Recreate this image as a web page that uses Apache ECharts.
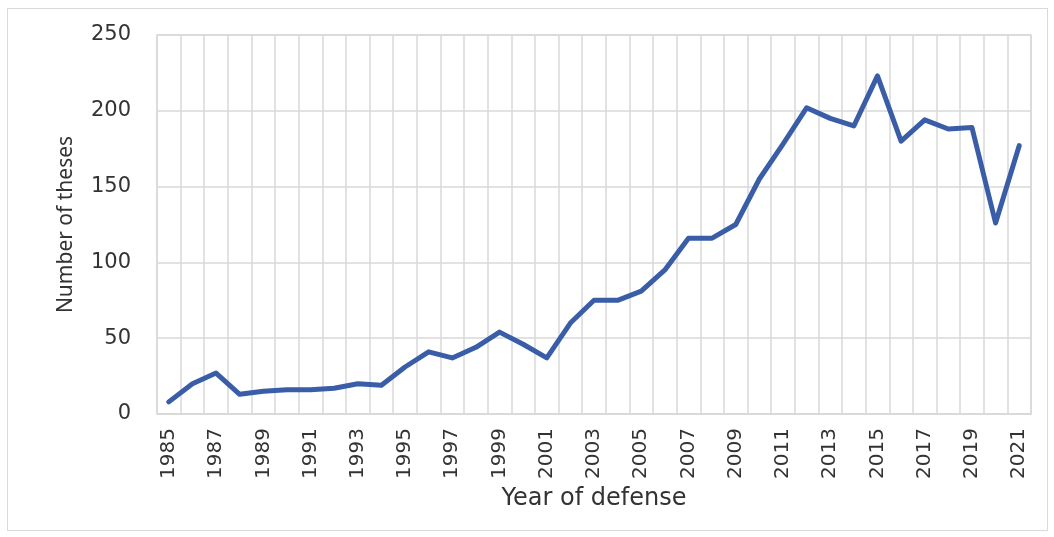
<!DOCTYPE html>
<html>
<head>
<meta charset="utf-8">
<script src="https://cdn.jsdelivr.net/npm/echarts@6/dist/echarts.min.js"></script>
<style>
  html, body { margin: 0; padding: 0; background: #fff; }
  #frame { position: absolute; left: 7px; top: 8px; width: 1039px; height: 521px; border: 1px solid #d9d9d9; }
  #chart { position: absolute; left: 0; top: 0; width: 1054px; height: 537px; }
</style>
</head>
<body>
<div id="frame"></div>
<div id="chart"></div>
<script>
const years = [];
for (let y = 1985; y <= 2021; y++) years.push(String(y));

const theses = [
  8, 20, 27, 13, 15, 16, 16, 17, 20, 19,
  31, 41, 37, 44, 54, 46, 37, 60, 75, 75,
  81, 95, 116, 116, 125, 155, 178, 202, 195, 190,
  223, 180, 194, 188, 189, 126, 177
];

const yTicks = { min: 0, max: 250, step: 50 };

const narrow = '"Noto Sans", sans-serif';
const wide = '"DejaVu Sans", Verdana, sans-serif';
const textColor = '#333';
const gridColor = '#d9d9d9';

const chart = echarts.init(document.getElementById('chart'), null, { renderer: 'canvas' });

chart.setOption({
  animation: false,
  grid: { left: 157, right: 23, top: 35, bottom: 123, show: true, borderColor: gridColor, borderWidth: 1.5 },
  xAxis: {
    type: 'category',
    data: years,
    boundaryGap: true,
    name: 'Year of defense',
    nameLocation: 'middle',
    nameGap: 73,
    nameTextStyle: { fontFamily: wide, fontSize: 24, color: textColor },
    axisLine: { lineStyle: { color: gridColor, width: 1.5 } },
    axisTick: { show: false },
    axisLabel: {
      interval: 1,
      rotate: 90,
      margin: 14,
      fontFamily: wide,
      fontSize: 20,
      color: textColor
    },
    splitLine: { show: true, interval: 0, lineStyle: { color: gridColor, width: 1.5 } }
  },
  yAxis: {
    type: 'value',
    min: yTicks.min,
    max: yTicks.max,
    interval: yTicks.step,
    name: 'Number of theses',
    nameLocation: 'middle',
    nameGap: 80,
    nameTextStyle: { fontFamily: narrow, fontSize: 21, color: textColor },
    axisLine: { show: false },
    axisTick: { show: false },
    axisLabel: { margin: 26, fontFamily: wide, fontSize: 21, color: textColor },
    splitLine: { show: true, lineStyle: { color: gridColor, width: 1.5 } }
  },
  series: [{
    type: 'line',
    data: theses,
    symbol: 'none',
    lineStyle: { color: '#3a5da8', width: 5, join: 'round', cap: 'round' }
  }]
});
</script>
</body>
</html>
